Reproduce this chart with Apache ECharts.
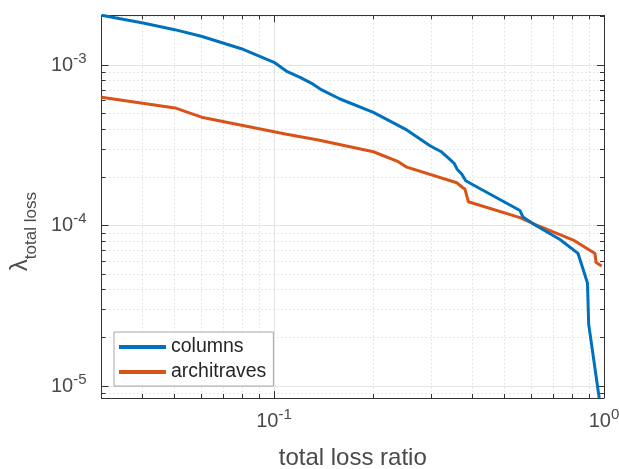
<!DOCTYPE html>
<html><head><meta charset="utf-8">
<script src="https://cdn.jsdelivr.net/npm/echarts@6/dist/echarts.min.js"></script>
<style>html,body{margin:0;padding:0;background:#fff}#c{width:619px;height:469px}</style>
</head><body><div id="c"></div>
<script>
// ---- data ----
const seriesNames = ['columns', 'architraves'];
const xColumns = [0.0300, 0.0401, 0.0500, 0.0602, 0.0796, 0.1000, 0.1097, 0.1199, 0.1300, 0.1395, 0.1585, 0.2000, 0.2524, 0.2970, 0.3223, 0.3510, 0.3593, 0.3705, 0.3810, 0.4018, 0.5564, 0.5680, 0.6180, 0.7356, 0.8340, 0.8910, 0.8986, 0.9670];
const yColumns = [2.04e-3, 1.827e-3, 1.66e-3, 1.51e-3, 1.263e-3, 1.04e-3, 9.08e-4, 8.38e-4, 7.69e-4, 6.99e-4, 6.14e-4, 5.07e-4, 3.94e-4, 3.14e-4, 2.87e-4, 2.45e-4, 2.234e-4, 2.094e-4, 1.90e-4, 1.788e-4, 1.24e-4, 1.13e-4, 1.007e-4, 8.18e-5, 6.71e-5, 4.38e-5, 2.43e-5, 8.42e-6];
const xArchitraves = [0.0300, 0.0501, 0.0603, 0.1092, 0.1362, 0.2000, 0.2380, 0.2512, 0.3578, 0.3725, 0.3790, 0.3880, 0.5564, 0.6250, 0.8070, 0.9391, 0.9458, 0.9840];
const yArchitraves = [6.29e-4, 5.40e-4, 4.73e-4, 3.70e-4, 3.41e-4, 2.88e-4, 2.50e-4, 2.32e-4, 1.848e-4, 1.725e-4, 1.688e-4, 1.407e-4, 1.12e-4, 1.007e-4, 8.12e-5, 6.69e-5, 5.88e-5, 5.59e-5];

// ---- axes ----
const X_MIN = 0.03, X_MAX = 1;
const Y_MIN = 8.42e-6, Y_MAX = 2.04e-3;
const xMajorTicks = [0.1, 1];
const xMinorTicks = [0.04, 0.05, 0.06, 0.07, 0.08, 0.09, 0.2, 0.3, 0.4, 0.5, 0.6, 0.7, 0.8, 0.9];
const yMajorTicks = [1e-5, 1e-4, 1e-3];
const yMinorTicks = [9e-6, 2e-5, 3e-5, 4e-5, 5e-5, 6e-5, 7e-5, 8e-5, 9e-5, 2e-4, 3e-4, 4e-4, 5e-4, 6e-4, 7e-4, 8e-4, 9e-4, 2e-3];
const xTitle = 'total loss ratio';
const yTitleMain = 'λ';
const yTitleSub = 'total loss';

const FONT = 'Liberation Sans, Arial, Helvetica, sans-serif';
const AXIS_COLOR = '#333333';
const LABEL_COLOR = '#4a4a4a';
const colors = ['#0072BD', '#D95319'];

function powLabel(v) {
  const l = Math.log10(v);
  const e = Math.round(l);
  if (Math.abs(l - e) > 1e-6) return '';
  return '{b|10}{s|' + e + '}';
}
const richTick = {
  b: { fontSize: 20, lineHeight: 20, fontFamily: FONT, color: LABEL_COLOR, verticalAlign: 'bottom' },
  s: { fontSize: 15, lineHeight: 15, fontFamily: FONT, color: LABEL_COLOR, verticalAlign: 'bottom', padding: [0, 0, 9, 0] }
};

function makeAxis(kind, pos, min, max, opts) {
  const a = {
    type: 'log', logBase: 10, position: pos, min: min, max: max,
    axisLine: { show: !!opts.line, onZero: false, lineStyle: { color: AXIS_COLOR, width: 1 } },
    axisTick: { show: true, inside: true, length: opts.tickLen, customValues: opts.ticks, lineStyle: { color: AXIS_COLOR, width: 1 } },
    axisLabel: { show: false },
    splitLine: { show: false },
    minorTick: { show: false },
    minorSplitLine: { show: false },
    silent: true
  };
  if (opts.labels) {
    a.axisLabel = {
      show: true, customValues: opts.ticks, formatter: powLabel, rich: richTick,
      margin: opts.margin, color: LABEL_COLOR, fontFamily: FONT,
      showMinLabel: true, showMaxLabel: true, hideOverlap: false
    };
  }
  if (opts.grid) {
    a.splitLine = { show: true, lineStyle: opts.grid };
  }
  return a;
}

const majorGrid = { color: '#e4e4e4', width: 1, type: 'solid' };
const minorGrid = { color: '#cfcfcf', width: 1, type: [1, 3] };

const xAxes = [
  makeAxis('x', 'bottom', X_MIN, X_MAX, { line: true, tickLen: 7, ticks: xMajorTicks, labels: true, margin: 13, grid: majorGrid }),
  makeAxis('x', 'top', X_MIN, X_MAX, { line: true, tickLen: 7, ticks: xMajorTicks }),
  makeAxis('x', 'bottom', X_MIN, X_MAX, { line: false, tickLen: 4, ticks: xMinorTicks, grid: minorGrid }),
  makeAxis('x', 'top', X_MIN, X_MAX, { line: false, tickLen: 4, ticks: xMinorTicks })
];
xAxes[0].name = xTitle;
xAxes[0].nameLocation = 'middle';
xAxes[0].nameGap = 48;
xAxes[0].nameTextStyle = { fontSize: 24, fontFamily: FONT, color: LABEL_COLOR };

const yAxes = [
  makeAxis('y', 'left', Y_MIN, Y_MAX, { line: true, tickLen: 7, ticks: yMajorTicks, labels: true, margin: 15, grid: majorGrid }),
  makeAxis('y', 'right', Y_MIN, Y_MAX, { line: true, tickLen: 7, ticks: yMajorTicks }),
  makeAxis('y', 'left', Y_MIN, Y_MAX, { line: false, tickLen: 4, ticks: yMinorTicks, grid: minorGrid }),
  makeAxis('y', 'right', Y_MIN, Y_MAX, { line: false, tickLen: 4, ticks: yMinorTicks })
];
yAxes[0].name = '{l|' + yTitleMain + '}{s|' + yTitleSub + '}';
yAxes[0].nameLocation = 'middle';
yAxes[0].nameGap = 59;
yAxes[0].nameTextStyle = {
  color: LABEL_COLOR, fontFamily: FONT, padding: [0, 50, 0, 0],
  rich: {
    l: { fontSize: 24, lineHeight: 24, fontFamily: FONT, color: LABEL_COLOR, verticalAlign: 'bottom', padding: [0, 0, 8, 0] },
    s: { fontSize: 17, lineHeight: 17, fontFamily: FONT, color: LABEL_COLOR, verticalAlign: 'bottom' }
  }
};

function pairs(xs, ys) { return xs.map((x, i) => [x, ys[i]]); }

const option = {
  animation: false,
  backgroundColor: '#ffffff',
  grid: { left: 101.5, right: 15, top: 15.3, bottom: 71, containLabel: false, outerBoundsMode: 'none' },
  xAxis: xAxes,
  yAxis: yAxes,
  legend: {
    orient: 'vertical', left: 114, top: 332,
    padding: [5, 7, 4, 5], itemGap: 5, itemWidth: 47, itemHeight: 4, icon: 'rect',
    backgroundColor: '#ffffff', borderColor: '#a6a6a6', borderWidth: 1, borderRadius: 0,
    textStyle: { fontSize: 19.5, fontFamily: FONT, color: '#262626', lineHeight: 20 },
    data: seriesNames, selectedMode: false
  },
  series: [
    { name: seriesNames[0], type: 'line', xAxisIndex: 0, yAxisIndex: 0, data: pairs(xColumns, yColumns),
      symbol: 'none', showSymbol: false, lineStyle: { color: colors[0], width: 3 }, itemStyle: { color: colors[0] }, z: 5 },
    { name: seriesNames[1], type: 'line', xAxisIndex: 0, yAxisIndex: 0, data: pairs(xArchitraves, yArchitraves),
      symbol: 'none', showSymbol: false, lineStyle: { color: colors[1], width: 3 }, itemStyle: { color: colors[1] }, z: 4 }
  ]
};

const chart = echarts.init(document.getElementById('c'), null, { renderer: 'canvas' });
chart.setOption(option);
</script>
</body></html>
